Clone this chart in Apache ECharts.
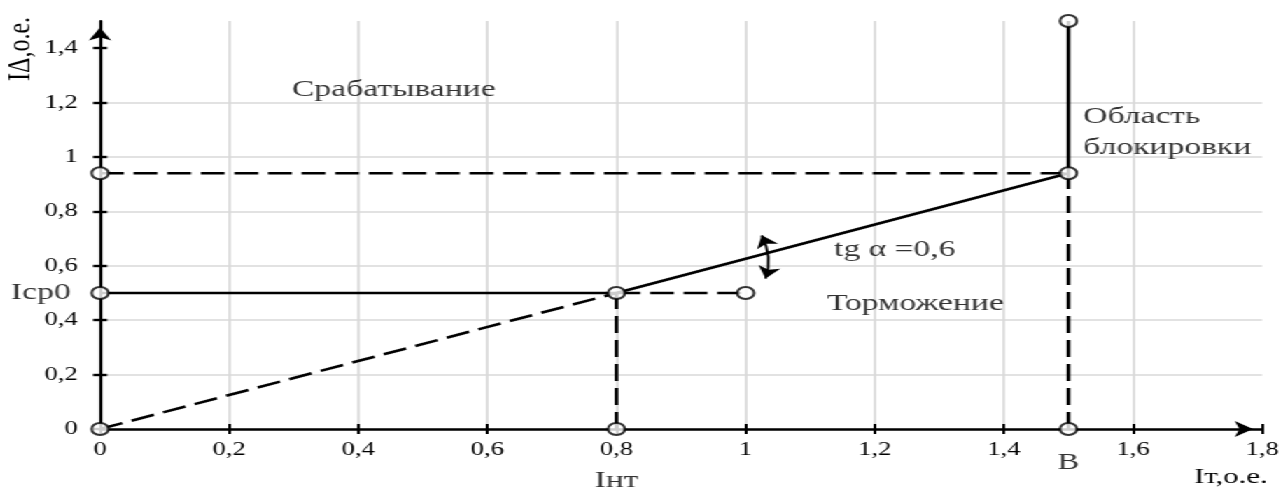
<!DOCTYPE html>
<html>
<head>
<meta charset="utf-8">
<script src="https://cdn.jsdelivr.net/npm/echarts@6/dist/echarts.min.js"></script>
<style>
  html, body { margin: 0; padding: 0; background: #fff; overflow: hidden; }
  #chart { height: 490px; transform-origin: 0 0; }
</style>
</head>
<body>
<div id="chart"></div>
<script>
// Axis ticks (relative units)
const xTickValues = [0, 0.2, 0.4, 0.6, 0.8, 1, 1.2, 1.4, 1.6, 1.8];
const yTickValues = [0, 0.2, 0.4, 0.6, 0.8, 1, 1.2, 1.4];

// Restraint characteristic: Icp0 = 0.5 up to Iнт = 0.8, then slope up to B = 1.5
const solidPath      = [[0, 0.5], [0.8, 0.5], [1.5, 0.94], [1.5, 1.5]];
const dashSlope      = [[0, 0], [0.8, 0.5]];
const dashSetting    = [[0.8, 0.5], [1, 0.5]];
const dashBlockLevel = [[0, 0.94], [1.5, 0.94]];
const dashKnee       = [[0.8, 0], [0.8, 0.5]];
const dashBlock      = [[1.5, 0], [1.5, 0.94]];

// Marked nodes and their captions
const nodePoints = [[0, 0], [0, 0.5], [0, 0.94], [0.8, 0], [0.8, 0.5], [1, 0.5], [1.5, 0], [1.5, 0.94], [1.5, 1.5]];
const nodeNames  = ['', 'Iср0', '', 'Iнт', '', '', 'B', '', ''];

// Slope angle marker
const angleArrow = [[1.025, 0.712], [1.031, 0.553]];

// Region captions and where they sit
const regionLabels  = ['Срабатывание', 'tg α =0,6', 'Торможение', 'Область\nблокировки'];
const regionAnchors = [[0.455, 1.246], [1.231, 0.658], [1.263, 0.46], [1.523, 1.09]];

// The drawing is laid out narrow and widened horizontally
const SX = 1.4;
const W = 1283 / SX;
const el = document.getElementById('chart');
el.style.width = W + 'px';
el.style.transform = 'scaleX(' + SX + ')';

const FONT = '"Liberation Serif", "Times New Roman", serif';
const INK = '#000';
const TEXT = '#000';
const GRID = '#d9d9d9';
const comma = v => String(Math.round(v * 10) / 10).replace('.', ',');

function segment(data, dashed) {
  return {
    type: 'line', data: data, symbol: 'none', silent: true, clip: false, z: 3,
    lineStyle: { color: INK, width: 2.6, type: dashed ? [17, 7] : 'solid' }
  };
}

const chart = echarts.init(el, null, { width: W, height: 490 });

const baseX = { type: 'value', min: 0, max: 1.8, interval: 0.2, gridIndex: 0, position: 'bottom' };
const baseY = { type: 'value', min: 0, max: 1.5, interval: 0.2, gridIndex: 0, position: 'left' };

chart.setOption({
  animation: false,
  backgroundColor: '#fff',
  grid: { left: 100 / SX, right: W - 1263 / SX, top: 21, bottom: 61 },
  xAxis: [
    Object.assign({}, baseX, {
      axisLine: { show: true, lineStyle: { color: INK, width: 2.6 }, symbol: ['none', 'arrow'], symbolSize: [12, 13], symbolOffset: [0, -6.5] },
      axisTick: { show: true, inside: false, length: 5, lineStyle: { color: INK, width: 2 } },
      axisLabel: { margin: 12, color: TEXT, fontFamily: FONT, fontSize: 19, formatter: comma },
      splitLine: { show: true, showMinLine: false, showMaxLine: false, lineStyle: { color: GRID, width: 1.7 } }
    }),
    Object.assign({}, baseX, {
      axisLine: { show: false },
      axisTick: { show: true, inside: true, length: 5, lineStyle: { color: INK, width: 2 } },
      axisLabel: { show: false },
      splitLine: { show: false }
    })
  ],
  yAxis: [
    Object.assign({}, baseY, {
      axisLine: { show: true, lineStyle: { color: INK, width: 2.2 }, symbol: ['none', 'arrow'], symbolSize: [12, 13], symbolOffset: [0, -6.5] },
      axisTick: { show: true, inside: false, length: 5, customValues: yTickValues, lineStyle: { color: INK, width: 2.4 } },
      axisLabel: { margin: 16, color: TEXT, fontFamily: FONT, fontSize: 19, customValues: yTickValues, formatter: comma },
      splitLine: { show: true, showMinLine: false, showMaxLine: false, lineStyle: { color: GRID, width: 1.7 } }
    }),
    Object.assign({}, baseY, {
      axisLine: { show: false },
      axisTick: { show: true, inside: true, length: 5, customValues: yTickValues, lineStyle: { color: INK, width: 2.4 } },
      axisLabel: { show: false },
      splitLine: { show: false }
    })
  ],
  graphic: [
    { type: 'text', x: 15, y: 49, rotation: Math.PI / 2, silent: true,
      style: { text: 'IΔ,о.е.', fontFamily: FONT, fontSize: 24, fill: TEXT, align: 'center', verticalAlign: 'middle' } },
    { type: 'text', x: 1231 / SX, y: 477, silent: true,
      style: { text: 'Iт,о.е.', fontFamily: FONT, fontSize: 22, fill: TEXT, align: 'center', verticalAlign: 'middle' } }
  ],
  series: [
    segment(dashSlope, true),
    segment(dashSetting, true),
    segment(dashBlockLevel, true),
    segment(dashKnee, true),
    segment(dashBlock, true),
    segment(solidPath, false),
    {
      type: 'lines', coordinateSystem: 'cartesian2d', silent: true, z: 4,
      symbol: ['arrow', 'arrow'], symbolSize: 12,
      lineStyle: { color: INK, width: 1.8, curveness: 0.15, opacity: 1 },
      data: [{ coords: angleArrow }]
    },
    {
      type: 'scatter', silent: true, clip: false, z: 5,
      symbol: 'circle', symbolSize: 12,
      itemStyle: { color: '#fff', borderColor: INK, borderWidth: 2 },
      data: nodePoints.map((p, i) => {
        const name = nodeNames[i];
        const item = { value: p, name: name };
        if (name === 'Iср0') item.label = { show: true, position: 'left', distance: 14, formatter: name, fontFamily: FONT, fontSize: 24, color: TEXT };
        if (name === 'Iнт') item.label = { show: true, position: 'bottom', distance: 33, formatter: name, fontFamily: FONT, fontSize: 24, color: TEXT };
        if (name === 'B') item.label = { show: true, position: 'bottom', distance: 15, formatter: name, fontFamily: FONT, fontSize: 23, color: TEXT };
        return item;
      })
    },
    {
      type: 'scatter', silent: true, clip: false, z: 6,
      symbolSize: 0,
      data: regionAnchors.map((p, i) => ({
        value: p, name: regionLabels[i],
        label: {
          show: true, formatter: regionLabels[i],
          position: i === 3 ? 'right' : 'inside', distance: 0,
          align: i === 3 ? 'left' : 'center',
          fontFamily: FONT, fontSize: 24, lineHeight: 31, color: TEXT
        }
      }))
    }
  ]
});
</script>
</body>
</html>
